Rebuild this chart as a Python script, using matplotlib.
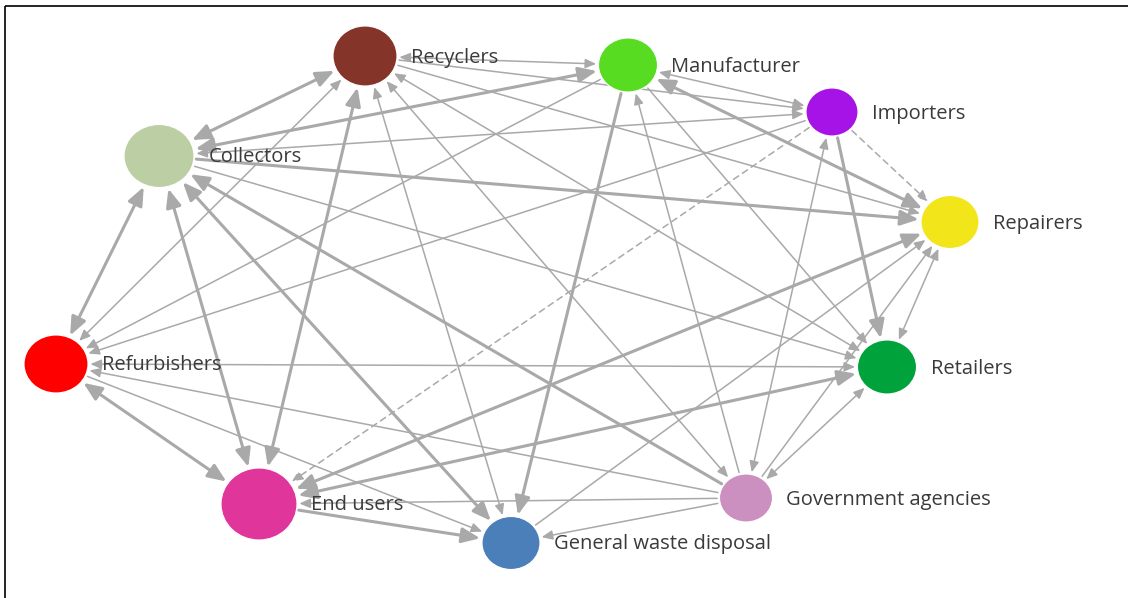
import matplotlib
matplotlib.use("Agg")
import matplotlib.pyplot as plt
from matplotlib.patches import Ellipse, FancyArrowPatch, ArrowStyle

# ---------------- data ----------------
nodes = ["Recyclers", "Manufacturer", "Importers", "Repairers", "Retailers",
         "Government agencies", "General waste disposal", "End users",
         "Refurbishers", "Collectors"]
node_colors = ["#843428", "#58dc22", "#a513e6", "#f2e51a", "#00a23c",
               "#cc90c0", "#4a7fb9", "#e0359a", "#ff0000", "#bccfa4"]

# edges: source, target, strength (2 = strong, 1 = weak, 0 = uncertain/dashed), both directions?
edge_src = ["Collectors", "Collectors", "Collectors", "Collectors", "Collectors",
            "Collectors", "Government agencies", "Collectors", "Collectors",
            "Recyclers", "Recyclers", "Recyclers", "Recyclers", "Government agencies",
            "Recyclers", "Recyclers", "Recyclers",
            "Manufacturer", "Manufacturer", "Manufacturer", "Government agencies",
            "Manufacturer", "Manufacturer",
            "Importers", "Importers", "Government agencies", "Importers", "Importers",
            "Repairers", "Government agencies", "General waste disposal", "End users",
            "Retailers", "End users", "Refurbishers",
            "Government agencies", "Government agencies", "Government agencies",
            "End users", "Refurbishers", "End users"]
edge_tgt = ["Recyclers", "Manufacturer", "Repairers", "Refurbishers", "End users",
            "General waste disposal", "Collectors", "Importers", "Retailers",
            "Manufacturer", "Importers", "Repairers", "Retailers", "Recyclers",
            "General waste disposal", "End users", "Refurbishers",
            "Importers", "Repairers", "Retailers", "Manufacturer",
            "General waste disposal", "Refurbishers",
            "Repairers", "Retailers", "Importers", "End users", "Refurbishers",
            "Retailers", "Repairers", "Repairers", "Repairers",
            "Government agencies", "Retailers", "Retailers",
            "General waste disposal", "End users", "Refurbishers",
            "General waste disposal", "General waste disposal", "Refurbishers"]
edge_strength = [2, 2, 2, 2, 2,
                 2, 2, 1, 1,
                 1, 1, 1, 1, 1,
                 1, 2, 1,
                 1, 2, 1, 1,
                 2, 1,
                 0, 2, 1, 0, 1,
                 1, 1, 1, 2,
                 1, 2, 1,
                 1, 1, 1,
                 2, 1, 2]
edge_both = [True, True, False, True, True,
             True, False, True, False,
             True, False, False, True, True,
             True, True, True,
             True, True, False, False,
             False, False,
             False, False, True, False, False,
             True, False, False, True,
             True, True, True,
             False, False, False,
             False, False, True]

# ---------------- layout (pixel coordinates) ----------------
layout = {
    "Recyclers": (365, 56, 64, 60),
    "Manufacturer": (628, 65, 59, 54),
    "Importers": (832, 112, 52, 48),
    "Repairers": (950, 222, 58, 53),
    "Retailers": (887, 367, 59, 54),
    "Government agencies": (746, 498, 53, 48),
    "General waste disposal": (511, 543, 58, 53),
    "End users": (259, 504, 76, 72),
    "Refurbishers": (56, 364, 64, 58),
    "Collectors": (159, 156, 70, 63),
}
label_x = {
    "Recyclers": 411, "Manufacturer": 671, "Importers": 872, "Repairers": 993,
    "Retailers": 931, "Government agencies": 786, "General waste disposal": 554,
    "End users": 311, "Refurbishers": 102, "Collectors": 209,
}

W, H = 1128, 598
fig = plt.figure(figsize=(W / 100, H / 100), dpi=100)
ax = fig.add_axes([0, 0, 1, 1])
ax.set_xlim(0, W)
ax.set_ylim(H, 0)
ax.axis("off")

# frame lines (top and left)
ax.plot([5, W], [6, 6], color="black", lw=1.2, solid_capstyle="butt")
ax.plot([5, 5], [6, H], color="black", lw=1.2, solid_capstyle="butt")

patches = {}
for name, col in zip(nodes, node_colors):
    x, y, w, h = layout[name]
    e = Ellipse((x, y), w, h, facecolor=col, edgecolor="white", lw=0.8, zorder=3)
    ax.add_patch(e)
    patches[name] = e

edge_color = "#a9a9a9"
for s, t, st, both in zip(edge_src, edge_tgt, edge_strength, edge_both):
    if st == 2:
        lw, hl, hw = 2.2, 11, 4.6
    else:
        lw, hl, hw = 1.1, 6.5, 2.8
    style = "<|-|>" if both else "-|>"
    arr = FancyArrowPatch(layout[s][:2], layout[t][:2],
                          patchA=patches[s], patchB=patches[t],
                          shrinkA=2, shrinkB=2,
                          arrowstyle=ArrowStyle(style, head_length=hl, head_width=hw),
                          mutation_scale=1, color=edge_color, lw=lw,
                          linestyle=(0, (4, 3)) if st == 0 else "-",
                          zorder=2)
    ax.add_patch(arr)

for name in nodes:
    x, y, w, h = layout[name]
    ax.text(label_x[name], y + 1.5, name, ha="left", va="center", fontsize=14.5,
            family=["Open Sans", "DejaVu Sans"], color="#3a3a3a", zorder=4)

fig.savefig("out.png", dpi=100)
